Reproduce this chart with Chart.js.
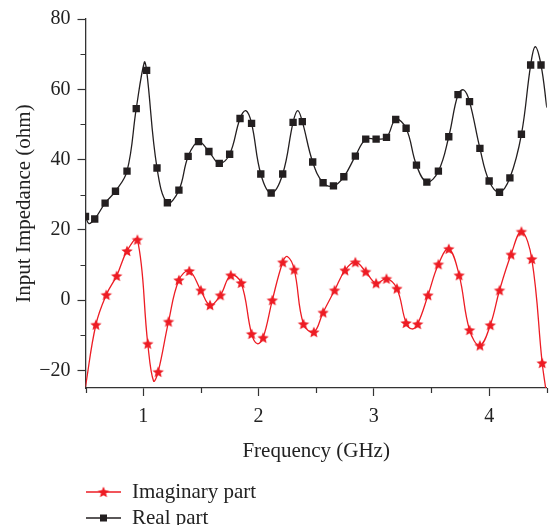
<!DOCTYPE html>
<html>
<head>
  <title>Input Impedance</title>
  <script src="https://cdn.jsdelivr.net/npm/chart.js"></script>
  <style>
    html, body { margin: 0; padding: 0; background: #fff; }
    #wrap { width: 552px; height: 525px; position: relative; }
  </style>
</head>
<body>
  <div id="wrap"><canvas id="zChart" width="552" height="525"></canvas></div>

  <script>
    // marker points (GHz, ohm)
    const imagX = [0.59, 0.68, 0.77, 0.86, 0.95, 1.04, 1.13, 1.22, 1.31, 1.40, 1.50, 1.58, 1.67, 1.76, 1.85,
                   1.94, 2.04, 2.12, 2.21, 2.31, 2.39, 2.48, 2.56, 2.66, 2.75, 2.84, 2.93, 3.02, 3.11, 3.20,
                   3.28, 3.38, 3.47, 3.56, 3.65, 3.74, 3.83, 3.92, 4.01, 4.09, 4.19, 4.28, 4.37, 4.46];
    const imagY = [-7.0, 1.5, 6.9, 14.0, 17.2, -12.4, -20.4, -6.1, 5.7, 8.3, 2.8, -1.4, 1.4, 7.1, 4.9,
                   -9.6, -10.7, 0.0, 10.8, 8.7, -6.8, -9.1, -3.5, 2.8, 8.5, 10.8, 8.1, 4.8, 6.1, 3.3,
                   -6.5, -6.8, 1.4, 10.2, 14.6, 7.1, -8.5, -12.9, -7.1, 2.8, 13.0, 19.5, 11.7, -17.9];
    // extra curve values without a marker (edges and peaks between markers)
    const imagCurveX = [0.5, 1.09, 1.99, 2.25, 3.33, 4.49];
    const imagCurveY = [-24.6, -23.0, -12.4, 12.4, -8.2, -25];

    const realX = [0.50, 0.58, 0.67, 0.76, 0.86, 0.94, 1.03, 1.12, 1.21, 1.31, 1.39, 1.48, 1.57, 1.66, 1.75,
                   1.84, 1.94, 2.02, 2.11, 2.21, 2.30, 2.38, 2.47, 2.56, 2.65, 2.74, 2.84, 2.93, 3.02, 3.11,
                   3.19, 3.28, 3.37, 3.46, 3.56, 3.65, 3.73, 3.83, 3.92, 4.00, 4.09, 4.18, 4.28, 4.36, 4.45];
    const realY = [23.8, 23.1, 27.6, 31.0, 36.7, 54.5, 65.4, 37.6, 27.7, 31.3, 40.9, 45.1, 42.3, 38.9, 41.5,
                   51.7, 50.3, 35.9, 30.5, 35.9, 50.6, 50.8, 39.3, 33.4, 32.5, 35.1, 41.0, 45.8, 45.8, 46.3,
                   51.4, 48.9, 38.4, 33.6, 36.7, 46.5, 58.5, 56.5, 43.2, 33.9, 30.7, 34.8, 47.2, 66.9, 66.9];
    const realCurveX = [0.53, 1.01, 1.89, 2.34, 3.78, 4.40, 4.5];
    const realCurveY = [21.8, 67.7, 53.9, 53.9, 59.8, 72.1, 54.8];

    const xTicks = [1, 2, 3, 4];
    const xMinor = [0.5, 1.5, 2.5, 3.5, 4.5];
    const yTicks = [-20, 0, 20, 40, 60, 80];
    const yMinor = [-10, 10, 30, 50, 70];

    const RED = '#ed1c24';
    const BLACK = '#231f20';
    const AXIS = '#333333';
    const FONT = "'Liberation Serif', 'Times New Roman', serif";

    // filled five point star used as the marker of the imaginary part
    function makeStar(r, color) {
      const c = document.createElement('canvas');
      const s = Math.ceil(r * 2 + 2);
      c.width = s; c.height = s;
      const g = c.getContext('2d');
      g.translate(s / 2, s / 2 + 0.5);
      g.beginPath();
      for (let i = 0; i < 10; i++) {
        const rr = i % 2 === 0 ? r : r * 0.45;
        const a = -Math.PI / 2 + i * Math.PI / 5;
        g.lineTo(rr * Math.cos(a), rr * Math.sin(a));
      }
      g.closePath();
      g.fillStyle = color;
      g.fill();
      return c;
    }
    const star = makeStar(6, RED);

    // markers and curve-only points merged in x order
    function buildLine(mx, my, cx, cy) {
      const pts = mx.map((x, i) => ({ x: x, y: my[i], lineOnly: false }))
        .concat(cx.map((x, i) => ({ x: x, y: cy[i], lineOnly: true })));
      return pts.sort((a, b) => a.x - b.x);
    }
    const imagData = buildLine(imagX, imagY, imagCurveX, imagCurveY);
    const realData = buildLine(realX, realY, realCurveX, realCurveY);

    const minorTicks = {
      id: 'minorTicks',
      afterDraw(chart) {
        const { ctx, chartArea, scales } = chart;
        ctx.save();
        ctx.strokeStyle = AXIS;
        ctx.lineWidth = 1.2;
        ctx.beginPath();
        xMinor.forEach(v => {
          const px = Math.round(scales.x.getPixelForValue(v)) + 0.5;
          ctx.moveTo(px, chartArea.bottom);
          ctx.lineTo(px, chartArea.bottom + 5);
        });
        yMinor.forEach(v => {
          const py = Math.round(scales.y.getPixelForValue(v)) + 0.5;
          ctx.moveTo(chartArea.left - 5, py);
          ctx.lineTo(chartArea.left, py);
        });
        ctx.stroke();
        ctx.restore();
      }
    };

    const bottomLegend = {
      id: 'bottomLegend',
      afterDraw(chart) {
        const ctx = chart.ctx;
        const rows = [492, 518];
        ctx.save();
        chart.data.datasets.forEach((ds, i) => {
          const y = rows[i];
          ctx.strokeStyle = ds.borderColor;
          ctx.lineWidth = 1.3;
          ctx.beginPath();
          ctx.moveTo(86, y);
          ctx.lineTo(121, y);
          ctx.stroke();
          if (i === 0) {
            ctx.drawImage(star, 103.5 - star.width / 2, y - star.height / 2);
          } else {
            ctx.fillStyle = BLACK;
            ctx.fillRect(100, y - 3.5, 7, 7);
          }
          ctx.fillStyle = '#222';
          ctx.font = '21px ' + FONT;
          ctx.textBaseline = 'middle';
          ctx.textAlign = 'left';
          ctx.fillText(ds.label, 132, y);
        });
        ctx.restore();
      }
    };

    const markerRadius = r => c => (c.raw && c.raw.lineOnly) ? 0 : r;

    new Chart(document.getElementById('zChart'), {
      type: 'scatter',
      data: {
        datasets: [{
          label: 'Imaginary part',
          data: imagData,
          showLine: true,
          borderColor: RED,
          borderWidth: 1.3,
          tension: 0.4,
          pointStyle: star,
          pointRadius: markerRadius(5),
          pointHoverRadius: 0
        }, {
          label: 'Real part',
          data: realData,
          showLine: true,
          borderColor: BLACK,
          borderWidth: 1.3,
          tension: 0.4,
          pointStyle: 'rect',
          backgroundColor: BLACK,
          pointBorderWidth: 0,
          pointRadius: markerRadius(5.2),
          pointHoverRadius: 0
        }]
      },
      options: {
        responsive: false,
        animation: false,
        events: [],
        layout: { padding: { left: 0, right: 3, top: 16, bottom: 62 } },
        plugins: { legend: { display: false }, tooltip: { enabled: false } },
        scales: {
          x: {
            type: 'linear',
            min: 0.5,
            max: 4.5,
            afterBuildTicks: s => { s.ticks = xTicks.map(v => ({ value: v })); },
            afterFit: s => { s.height = 75; },
            grid: { drawOnChartArea: false, tickLength: 8, tickColor: AXIS, tickWidth: 1.2 },
            border: { color: AXIS, width: 1.3 },
            ticks: { color: '#222', padding: 9, font: { family: FONT, size: 20 } },
            title: {
              display: true,
              text: 'Frequency (GHz)',
              color: '#222',
              padding: { top: 0, bottom: -1 },
              font: { family: FONT, size: 21 }
            }
          },
          y: {
            min: -25,
            max: 80,
            afterBuildTicks: s => { s.ticks = yTicks.map(v => ({ value: v })); },
            afterFit: s => { s.width = 85.5; },
            grid: { drawOnChartArea: false, tickLength: 8, tickColor: AXIS, tickWidth: 1.2 },
            border: { color: AXIS, width: 1.3 },
            ticks: {
              color: '#222',
              padding: 7,
              font: { family: FONT, size: 20 },
              callback: v => v < 0 ? '\u2212' + Math.abs(v) : String(v)
            },
            title: {
              display: true,
              text: 'Input Impedance (ohm)',
              color: '#222',
              padding: { top: 12, bottom: 0 },
              font: { family: FONT, size: 21 }
            }
          }
        }
      },
      plugins: [minorTicks, bottomLegend]
    });
  </script>
</body>
</html>
